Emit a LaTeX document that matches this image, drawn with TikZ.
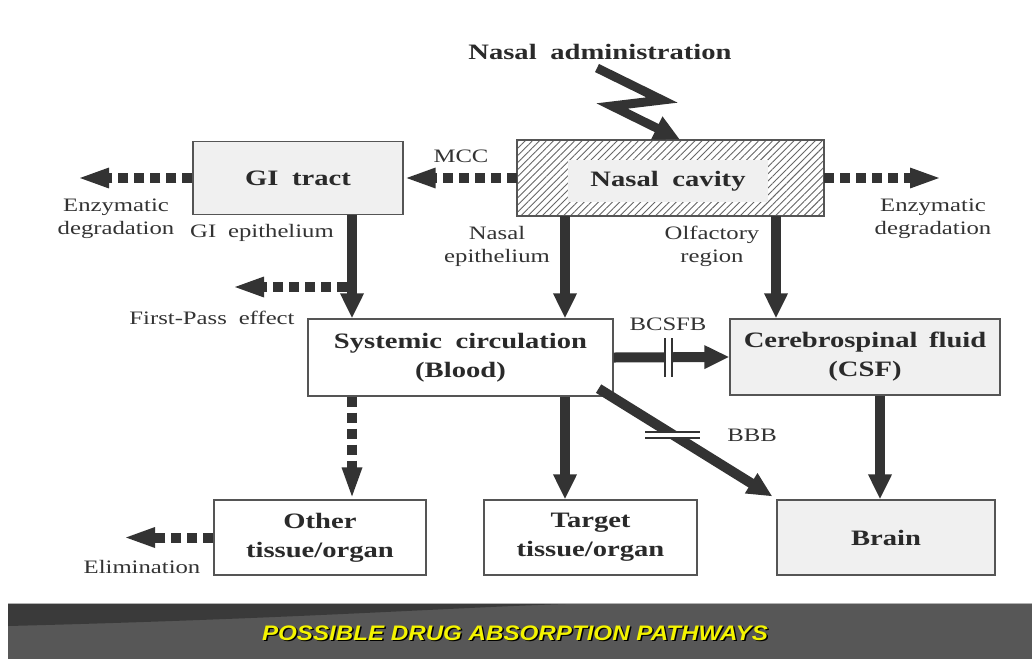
\documentclass[tikz,border=0pt]{standalone}
\usepackage{fontspec}
\setmainfont{Liberation Serif}[FakeStretch=1.3]
\newfontfamily\bannerfont{Liberation Sans}[FakeStretch=1.15]
\usetikzlibrary{arrows.meta,patterns.meta}
\definecolor{ink}{HTML}{333333}
\definecolor{txt}{HTML}{2A2A2A}
\definecolor{boxline}{HTML}{555555}
\definecolor{boxfill}{HTML}{F0F0F0}
\definecolor{bannerlight}{HTML}{575757}
\definecolor{bannerdark}{HTML}{3A3A3A}
\definecolor{banneryellow}{HTML}{F4F400}
\tikzset{
  box/.style={draw=boxline, line width=1.2pt, fill=white, inner sep=0pt, align=center,
    text=txt, font=\fontsize{22}{29}\selectfont\bfseries},
  greybox/.style={box, fill=boxfill},
  lbl/.style={inner sep=0pt, align=center, text=ink, font=\fontsize{19}{23}\selectfont},
  thickarrow/.style={line width=10pt, draw=ink, -{Triangle[length=25pt,width=22pt]}},
  dasharrow/.style={line width=10pt, draw=ink, dash pattern=on 10pt off 6pt,
    -{Triangle[length=32pt,width=18pt]}},
  bar/.style={draw=ink, line width=2.2pt},
}
\begin{document}
\begin{tikzpicture}[x=1pt,y=-1pt]
\useasboundingbox (0,0) rectangle (1032,659);
\fill[white] (0,0) rectangle (1032,659);

% boxes
\node[greybox, minimum width=210pt, minimum height=73pt] (gi) at (298,178) {GI\hspace{0.3em} tract};
\node[draw=boxline, line width=1.2pt, fill=white,
  pattern={Lines[angle=45,distance=5pt,line width=0.9pt]}, pattern color=gray!80!black,
  minimum width=307pt, minimum height=76pt, inner sep=0pt] (nasal) at (670.5,178) {};
\node[box, draw=none, fill=boxfill, minimum width=200pt, minimum height=42pt] (nasaltext) at (668,181) {Nasal\hspace{0.3em} cavity};
\node[box, minimum width=305pt, minimum height=77pt] (sys) at (460.5,357.5) {Systemic\hspace{0.3em} circulation\\(Blood)};
\node[greybox, minimum width=270pt, minimum height=76pt] (csf) at (865,357) {Cerebrospinal\hspace{0.2em} fluid\\(CSF)};
\node[box, minimum width=212pt, minimum height=75pt] (other) at (320,537.5) {Other\\tissue/organ};
\node[box, minimum width=213pt, minimum height=75pt] (target) at (590.5,537.5) {Target\\tissue/organ};
\node[greybox, minimum width=218pt, minimum height=75pt] (brain) at (886,537.5) {Brain};

% free ends
\coordinate (gil) at (77,178);
\coordinate (nasr) at (942,178);
\coordinate (fps) at (347,287);
\coordinate (fpe) at (232,287);
\coordinate (elim) at (123,537.5);
\coordinate (z0) at (597,68);
\coordinate (z1) at (662,100);
\coordinate (z2) at (612,106);

% zigzag administration arrow
\node[lbl, font=\fontsize{22}{26}\selectfont\bfseries, text=txt] (admin) at (600,52) {Nasal\hspace{0.3em} administration};
\draw[line width=9pt, ink, line join=miter, miter limit=4, -{Triangle[length=26pt,width=24pt]}]
  (z0) -- (z1) -- (z2) -- ([xshift=9.5pt]nasal.north);

% dashed arrows
\draw[dasharrow] (gi.west) -- (gil);
\draw[dasharrow] (nasal.west) -- (gi.east);
\draw[dasharrow] (nasal.east) -- (nasr);
\draw[dasharrow] (other.west) -- (elim);
\draw[dasharrow] ([xshift=-108.5pt]sys.south) -- ([xshift=-108.5pt]sys.south |- other.north);

% thick arrows
\draw[thickarrow] ([xshift=54pt]gi.south) -- ([xshift=54pt]gi.south |- sys.north);
\draw[dasharrow] (fps) -- (fpe);
\draw[thickarrow] ([xshift=-105.5pt]nasal.south) -- ([xshift=-105.5pt]nasal.south |- sys.north);
\draw[thickarrow] ([xshift=105.5pt]nasal.south) -- ([xshift=105.5pt]nasal.south |- csf.north);
\draw[thickarrow] (sys.east) -- (csf.west);
\draw[thickarrow] ([xshift=-15pt,yshift=8pt]sys.south east) -- ([xshift=-4pt,yshift=3pt]brain.north west);
\draw[thickarrow] ([xshift=104.5pt]sys.south) -- ([xshift=104.5pt]sys.south |- target.north);
\draw[thickarrow] ([xshift=15pt]csf.south) -- ([xshift=15pt]csf.south |- brain.north);

% barrier marks
\fill[white] (665,338) rectangle (672,377);
\draw[bar] (665,338) -- (665,377);
\draw[bar] (672,338) -- (672,377);
\fill[white] (645,432) rectangle (700,438);
\draw[bar] (645,432) -- (700,432);
\draw[bar] (645,438) -- (700,438);

% labels
\node[lbl] (mcc) at (461,156) {MCC};
\node[lbl] (enzl) at (116,219) {Enzymatic\\degradation};
\node[lbl] (enzr) at (933,219) {Enzymatic\\degradation};
\node[lbl] (giep) at (262,233) {GI\hspace{0.3em} epithelium};
\node[lbl] (nasep) at (497,246) {Nasal\\epithelium};
\node[lbl] (olf) at (712,246) {Olfactory\\region};
\node[lbl] (fpl) at (212,318) {First-Pass\hspace{0.3em} effect};
\node[lbl] (bcsfb) at (668,324) {BCSFB};
\node[lbl] (bbb) at (752,435) {BBB};
\node[lbl] (eliml) at (142,567) {Elimination};

% banner
\fill[bannerlight] (8,603) rectangle (1032,659);
\fill[bannerdark] (8,603) -- (600,603) .. controls (470,606) and (320,618) .. (8,626) -- cycle;
\draw[gray!60, line width=0.8pt] (8,603.4) -- (1032,603.4);
\node[inner sep=0pt, text=black, font=\bannerfont\fontsize{21}{24}\selectfont\bfseries\itshape] (bshadow) at (516.5,634.5) {POSSIBLE DRUG ABSORPTION PATHWAYS};
\node[inner sep=0pt, text=banneryellow, font=\bannerfont\fontsize{21}{24}\selectfont\bfseries\itshape] (btitle) at (515,633) {POSSIBLE DRUG ABSORPTION PATHWAYS};
\end{tikzpicture}
\end{document}
